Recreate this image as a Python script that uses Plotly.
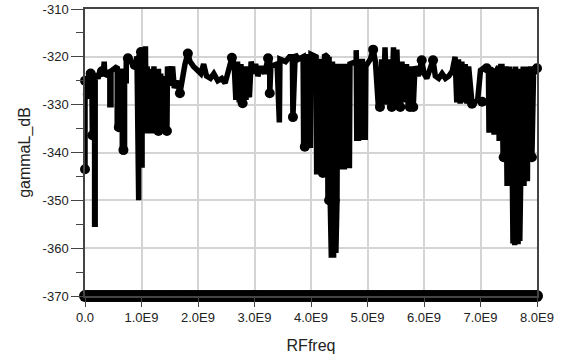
import numpy as np
import plotly.graph_objects as go

# ---- data (frequency in GHz, gamma in dB), by frequency band ----
band_a_ghz = [0.00, 0.00, 0.04, 0.05, 0.07, 0.12, 0.13, 0.15, 0.17, 0.17, 0.18, 0.18, 0.23, 0.27, 0.32,
              0.34, 0.35, 0.40, 0.44, 0.44, 0.46, 0.46, 0.52, 0.57, 0.57, 0.60, 0.60, 0.66, 0.66, 0.70,
              0.70, 0.73, 0.73, 0.78, 0.84, 0.88, 0.92, 0.93, 0.95, 0.95, 0.99, 0.99, 1.01, 1.01]
band_a_db = [-343.5, -325.0, -325.5, -327.8, -324.0, -323.5, -336.4, -323.5, -323.5, -355.0, -355.0, -323.5,
             -324.5, -323.0, -324.0, -321.0, -324.0, -323.5, -323.0, -330.0, -330.0, -323.0, -322.5, -322.0,
             -334.7, -334.7, -323.0, -323.0, -339.5, -339.5, -325.0, -325.0, -320.5, -320.3, -321.5, -321.7,
             -320.0, -350.0, -350.0, -320.0, -319.0, -342.6, -342.6, -322.5]

band_b_ghz = [1.03, 1.05, 1.07, 1.08, 1.10, 1.12, 1.14, 1.16, 1.18, 1.20, 1.22, 1.24, 1.26, 1.28, 1.30,
              1.32, 1.34, 1.36, 1.38, 1.41, 1.43, 1.45, 1.46]
band_b_db = [-336.0, -322.0, -317.8, -335.0, -322.0, -336.0, -322.5, -335.5, -323.0, -336.0, -322.0, -335.0,
             -323.0, -336.0, -322.5, -335.5, -323.5, -334.3, -324.0, -335.0, -325.0, -335.5, -322.0]

band_c_ghz = [1.50, 1.55, 1.58, 1.63, 1.68, 1.72, 1.77, 1.82, 1.86, 1.92, 1.98, 2.05, 2.10, 2.15, 2.22,
              2.28, 2.35, 2.42, 2.48, 2.55, 2.60, 2.64]
band_c_db = [-326.0, -322.0, -326.5, -325.0, -327.6, -324.0, -321.5, -319.3, -321.0, -322.0, -322.8, -323.5,
             -321.5, -324.0, -324.5, -323.5, -325.0, -324.5, -325.5, -322.5, -320.2, -321.5]

band_d_ghz = [2.67, 2.70, 2.73, 2.76, 2.79, 2.82, 2.85, 2.88, 2.91, 2.94, 2.98, 3.02, 3.06]
band_d_db = [-329.0, -321.0, -329.5, -321.5, -329.7, -322.0, -329.0, -322.0, -328.5, -321.0, -323.5, -321.5,
             -324.0]

band_e_ghz = [3.12, 3.18, 3.24, 3.27, 3.27, 3.29, 3.40, 3.42, 3.44, 3.45, 3.55, 3.62, 3.67, 3.68, 3.70,
              3.72, 3.78, 3.86, 3.87, 3.91, 3.92, 3.96, 3.97, 3.99, 4.00]
band_e_db = [-322.0, -323.5, -320.3, -320.5, -327.6, -322.0, -321.5, -333.7, -333.7, -320.5, -321.0, -320.0,
             -320.0, -332.6, -320.0, -319.5, -320.5, -320.0, -338.8, -338.8, -320.0, -320.0, -338.5, -338.5,
             -319.5]

band_f_ghz = [4.09, 4.10, 4.14, 4.14, 4.19, 4.20, 4.23, 4.24, 4.29, 4.30, 4.32, 4.34, 4.36, 4.38, 4.40,
              4.42, 4.44, 4.46, 4.47, 4.54, 4.55, 4.59, 4.60, 4.65, 4.66, 4.68, 4.69, 4.80, 4.80,
              4.81, 4.84, 4.85, 4.91, 4.92, 4.96, 4.97, 5.05, 5.10, 5.14]
band_f_db = [-320.0, -344.0, -344.0, -321.0, -321.0, -344.3, -344.3, -319.5, -320.0, -350.0, -320.0, -350.0,
             -362.0, -321.0, -362.0, -322.0, -361.0, -350.0, -322.0, -322.0, -343.0, -343.0, -322.0,
             -322.0, -343.3, -343.3, -321.5, -321.0, -318.6, -337.0, -337.0, -321.0, -321.0, -336.8, -336.8,
             -322.0, -320.5, -318.5, -321.0]

band_g_ghz = [5.19, 5.22, 5.25, 5.28, 5.31, 5.34, 5.37, 5.40, 5.43, 5.46, 5.49, 5.52, 5.55, 5.58, 5.61,
              5.65, 5.69, 5.72, 5.75, 5.78, 5.81, 5.84]
band_g_db = [-330.0, -330.5, -320.5, -330.0, -318.0, -330.0, -320.5, -329.5, -330.5, -318.0, -330.0, -318.5,
             -330.0, -330.5, -321.0, -329.5, -321.5, -330.0, -330.5, -322.0, -330.5, -322.0]

band_h_ghz = [5.90, 5.96, 6.00, 6.05, 6.10, 6.16, 6.20, 6.26, 6.32, 6.38, 6.44, 6.50, 6.55]
band_h_db = [-324.0, -320.7, -323.5, -324.5, -323.0, -320.7, -324.0, -324.5, -323.5, -324.5, -324.0, -323.0,
             -320.0]

band_i_ghz = [6.58, 6.61, 6.64, 6.67, 6.70, 6.73, 6.76, 6.79, 6.85, 6.95, 7.00, 7.05, 7.14, 7.15, 7.17,
              7.18, 7.23, 7.24, 7.27, 7.28, 7.32, 7.33, 7.35, 7.36, 7.38, 7.40, 7.43, 7.45]
band_i_db = [-329.5, -320.5, -329.8, -321.0, -329.5, -321.5, -329.8, -322.0, -329.8, -329.0, -322.8, -322.4,
             -322.5, -335.3, -335.3, -322.5, -323.0, -335.7, -335.7, -323.0, -322.0, -337.0, -337.0, -322.0,
             -322.0, -341.0, -341.0, -322.0]

band_j_ghz = [7.47, 7.485, 7.50, 7.515, 7.53, 7.545, 7.56, 7.575, 7.59, 7.605, 7.62, 7.635, 7.65, 7.665,
              7.68, 7.695, 7.71, 7.725, 7.74, 7.755, 7.77, 7.785, 7.80, 7.815, 7.83, 7.845, 7.86, 7.89,
              7.91, 7.94, 7.97, 8.00]
band_j_db = [-347.0, -322.5, -347.0, -322.0, -347.0, -322.5, -347.0, -359.0, -322.5, -359.4, -322.0, -359.0,
             -323.0, -359.2, -322.5, -358.5, -347.0, -322.5, -347.0, -322.0, -347.0, -322.5, -346.0, -322.0,
             -346.0, -322.5, -341.0, -322.0, -341.0, -322.5, -323.0, -322.4]

bands = [(band_a_ghz, band_a_db), (band_b_ghz, band_b_db), (band_c_ghz, band_c_db),
         (band_d_ghz, band_d_db), (band_e_ghz, band_e_db), (band_f_ghz, band_f_db),
         (band_g_ghz, band_g_db), (band_h_ghz, band_h_db), (band_i_ghz, band_i_db),
         (band_j_ghz, band_j_db)]
rf_ghz, gamma_db = [], []
for bx, by in bands:
    assert len(bx) == len(by)
    rf_ghz += bx
    gamma_db += by

# points that carry a visible circle symbol
sym_ghz = [0.00, 0.00, 0.05, 0.13, 0.10, 0.30, 0.60, 0.68, 0.76, 0.88, 0.99, 1.30, 1.36,
           1.45, 1.68, 1.82, 2.60, 2.79, 3.24, 3.27, 3.68, 3.89, 4.21, 4.32, 4.42,
           5.10, 5.22, 5.43, 5.58, 5.75, 5.81, 5.96, 6.16, 6.85, 7.03, 7.11, 7.41,
           7.91, 8.00]
sym_db = [-343.5, -325.0, -327.8, -336.4, -323.5, -323.0, -334.7, -339.5, -320.3, -321.7, -319.0, -335.5,
          -334.3, -335.5, -327.6, -319.3, -320.2, -329.7, -320.3, -327.6, -332.6, -338.8, -344.3, -350.0,
          -350.0, -318.5, -330.5, -330.5, -330.5, -330.5, -330.5, -320.7, -320.7, -329.8, -329.4, -322.4,
          -341.0, -341.0, -322.4]

# floor samples (clipped values shown at -370 dB)
floor_ghz = np.linspace(0.0, 8.0, 201)
floor_db = [-370.0] * len(floor_ghz)

y_ticks = [-370, -360, -350, -340, -330, -320, -310]
y_tick_text = ["-370", "-360", "-350", "-340", "-330", "-320", "-310"]
x_ticks_ghz = [0, 1, 2, 3, 4, 5, 6, 7, 8]
x_tick_text = ["0.0", "1.0E9", "2.0E9", "3.0E9", "4.0E9", "5.0E9", "6.0E9", "7.0E9", "8.0E9"]

G = 1e9
fig = go.Figure()
fig.add_trace(go.Scatter(
    x=[f * G for f in floor_ghz], y=floor_db, mode="lines+markers",
    line=dict(color="black", width=6), marker=dict(color="black", size=12),
    cliponaxis=False, showlegend=False, hoverinfo="skip"))
fig.add_trace(go.Scatter(
    x=[f * G for f in rf_ghz], y=gamma_db, mode="lines",
    line=dict(color="black", width=5.5), cliponaxis=False,
    showlegend=False))
fig.add_trace(go.Scatter(
    x=[f * G for f in sym_ghz], y=sym_db, mode="markers",
    marker=dict(color="black", size=10), cliponaxis=False, showlegend=False))

font = dict(family="Liberation Sans, Arial, sans-serif", color="#222")
fig.update_layout(
    width=569, height=364,
    margin=dict(l=85, r=32, t=9, b=68, autoexpand=False),
    paper_bgcolor="white", plot_bgcolor="white",
    font=dict(size=13, **font),
    xaxis=dict(
        range=[0, 8 * G], tickvals=[t * G for t in x_ticks_ghz], ticktext=x_tick_text,
        showgrid=True, gridcolor="#d4d4d4", gridwidth=1.5,
        showline=True, linecolor="#444", linewidth=1.5, mirror=True,
        ticks="outside", ticklen=9, tickcolor="#444", zeroline=False,
        tickfont=dict(size=13, **font),
        title=dict(text="RFfreq", font=dict(size=16, **font), standoff=15),
    ),
    yaxis=dict(
        range=[-370, -310], tickvals=y_ticks, ticktext=y_tick_text,
        showgrid=True, gridcolor="#d4d4d4", gridwidth=1.5,
        showline=True, linecolor="#444", linewidth=1.5, mirror=True,
        ticks="outside", ticklen=12, tickcolor="#444", zeroline=False,
        minor=dict(dtick=5, ticks="outside", ticklen=7, tickcolor="#444", showgrid=False),
        tickfont=dict(size=13, **font),
        title=dict(text="gammaL_dB", font=dict(size=16, **font), standoff=8),
    ),
)
fig.write_html("out.html")
